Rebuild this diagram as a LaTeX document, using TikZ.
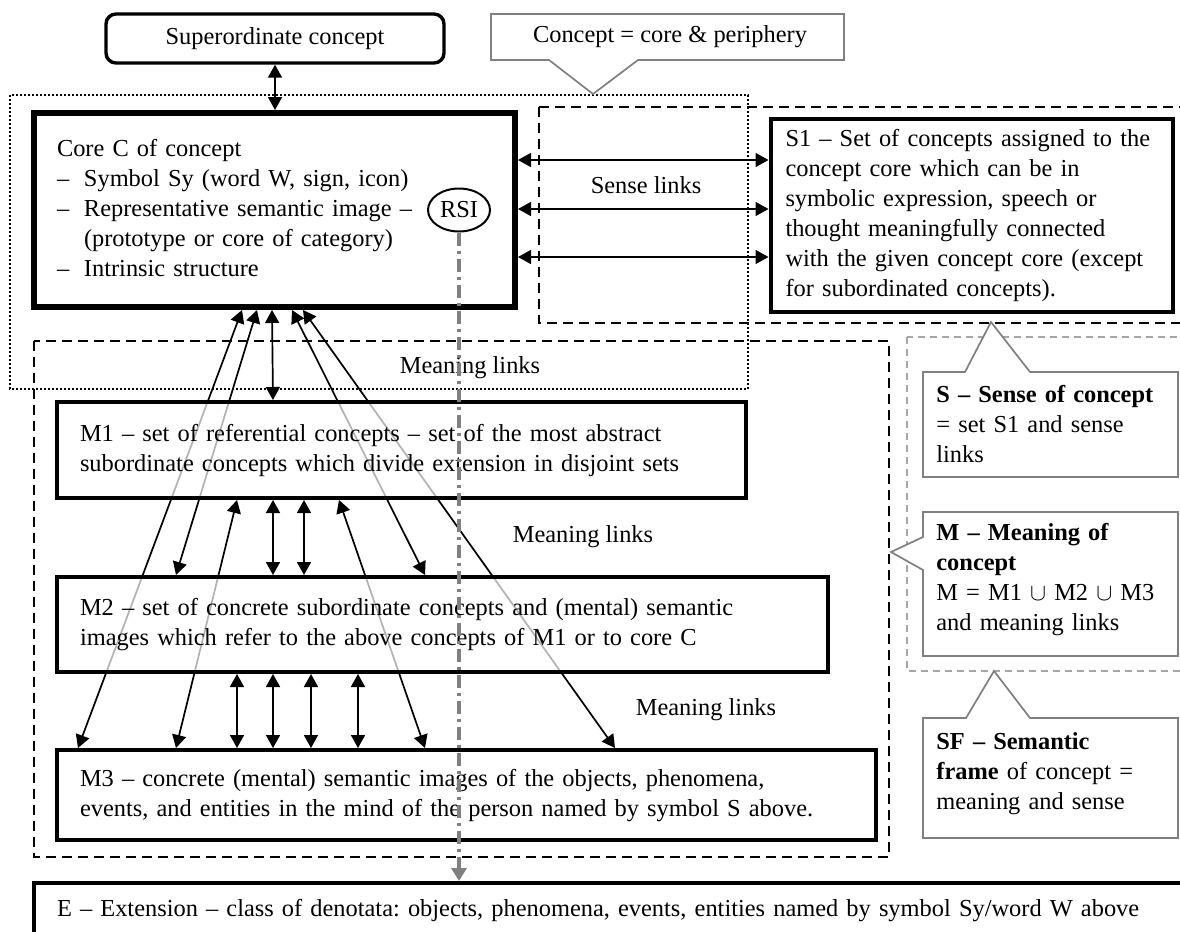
\documentclass[tikz,border=0pt]{standalone}
\usepackage{fontspec}
\setmainfont{Liberation Serif}
\usetikzlibrary{positioning,calc,shapes.geometric,arrows.meta,backgrounds}

\newcommand\bodyfont{\fontsize{12.2}{15}\selectfont}
\newcommand\itemdash{\makebox[13.5pt][l]{–}}
\frenchspacing
\hyphenpenalty=10000

\begin{document}
\begin{tikzpicture}[
    x=0.5pt, y=-0.5pt, font=\bodyfont,
    box/.style={draw, line width=2pt, fill=white, fill opacity=0.7, text opacity=1,
        align=left, inner xsep=11.5pt, inner ysep=0pt,
        execute at begin node=\strut, execute at end node=\strut},
    topbox/.style={draw, line width=1.7pt, rounded corners=5pt, minimum width=169pt, minimum height=24.5pt},
    rsi/.style={ellipse, draw, line width=1pt, fill=white, minimum width=31pt, minimum height=21.5pt, inner sep=0pt},
    lbl/.style={inner sep=1pt},
    notetext/.style={anchor=west, inner sep=0pt, text width=118pt, align=left,
        execute at begin node=\strut, execute at end node=\strut},
    callout/.style={draw=gray, fill=white, line width=0.85pt},
    region/.style={draw, line width=0.85pt, dash pattern=on 5pt off 3pt},
    link/.style={line width=0.85pt, {Triangle[length=6.5pt,width=7pt]}-{Triangle[length=6.5pt,width=7pt]}},
    rsiline/.style={draw=gray, line width=1.75pt, dash pattern=on 6.5pt off 2.5pt on 1.5pt off 2.5pt,
        -{Triangle[length=6.5pt,width=7.5pt]}}
]
\useasboundingbox (0,0) rectangle (1180,932);

% callout outlines
\draw[callout] (491,60) -- (549,60) -- (593,94) -- (638,60) -- (844,60) -- (844,14) -- (491,14) -- cycle;
\draw[callout] (923,372) -- (965,372) -- (991,322) -- (1030,372) -- (1178,372) -- (1178,477) -- (923,477) -- cycle;
\draw[callout] (923,512) -- (1178,512) -- (1178,656) -- (923,656) -- (923,570) -- (891,552) -- (923,537) -- cycle;
\draw[callout] (923,718) -- (966,718) -- (994,671) -- (1030,718) -- (1178,718) -- (1178,838) -- (923,838) -- cycle;

% boxes
\node[topbox] (sup) at (275,38.5) {Superordinate concept};
\node[box, line width=3pt, text width=217.5pt, minimum height=97pt] (core) at (274.5,210)
    {Core C of concept\\ \itemdash Symbol Sy (word W, sign, icon)\\ \itemdash Representative semantic image –\\
     \hspace*{13.5pt}(prototype or core of category)\\ \itemdash Intrinsic structure};
\node[rsi] (rsi) at (459,210) {RSI};
\node[box, text width=186pt, inner xsep=7.5pt, minimum height=96.5pt] (s1) at (971.5,215.5)
    {S1 – Set of concepts assigned to the\\ concept core which can be in\\ symbolic expression, speech or\\
     thought meaningfully connected\\ with the given concept core (except\\ for subordinated concepts).};
\node[box, text width=321.5pt, minimum height=48pt] (m1) at (401.5,450)
    {M1 – set of referential concepts – set of the most abstract\\ subordinate concepts which divide extension in disjoint sets};
\node[box, text width=362.5pt, minimum height=47.5pt] (m2) at (442.5,624.5)
    {M2 – set of concrete subordinate concepts and (mental) semantic\\ images which refer to the above concepts of M1 or to core C};
\node[box, text width=386.5pt, minimum height=45pt] (m3) at (466.5,795)
    {M3 – concrete (mental) semantic images of the objects, phenomena,\\ events, and entities in the mind of the person named by symbol S above.};
\node[box, text width=580pt, minimum height=27pt] (e) at (637,910)
    {E – Extension – class of denotata: objects, phenomena, events, entities named by symbol Sy/word W above};

% labels
\node[lbl] (senselbl) at (646,185) {Sense links};
\node[lbl] (meanlbl1) at (470,368) {Meaning links};
\node[lbl] (meanlbl2) at (583,537) {Meaning links};
\node[lbl] (meanlbl3) at (706,710) {Meaning links};

% callout texts
\node[inner sep=0pt] (concept) at (670,37) {Concept = core \& periphery};
\node[notetext] (sense) at (936,426) {\textbf{S – Sense of concept}\\= set S1 and sense\\links};
\node[notetext] (meaning) at (936,579.5) {\textbf{M – Meaning of}\\\textbf{concept}\\M = M1 $\cup$ M2 $\cup$ M3\\and meaning links};
\node[notetext] (frame) at (936,773) {\textbf{SF – Semantic}\\\textbf{frame} of concept =\\meaning and sense};

% regions and links behind the boxes
\begin{scope}[on background layer]
\draw[line width=1pt, dash pattern=on 1pt off 1pt] (10,95) rectangle (748,389);
\draw[region] (539,107) rectangle (1200,323);
\draw[region] (34,341) rectangle (889,857);
\draw[region, draw=gray!70, dash pattern=on 3.5pt off 2.5pt] (907,337) rectangle (1200,671);

\draw[link] (sup.south) -- (sup.south |- core.north);
\foreach \dy in {50,99,147} {
    \coordinate (sl) at ($(core.north east)+(0,\dy)$);
    \draw[link] (sl) -- (sl -| s1.west);
}
\foreach \a/\b/\t in {211/23/m3, 226/121/m2, 241/218/m1, 261/370/m2, 272/560/m3}
    \draw[link] ($(core.south west)+(\a,0)$) -- ($(\t.north west)+(\b,0)$);
\foreach \a/\b/\t in {182/121/m3, 218/218/m2, 249/249/m2, 284/370/m3}
    \draw[link] ($(m1.south west)+(\a,0)$) -- ($(\t.north west)+(\b,0)$);
\foreach \a in {182,218,256,303}
    \draw[link] ($(m2.south west)+(\a,0)$) -- ($(m3.north west)+(\a,0)$);
\end{scope}

\draw[rsiline] (rsi.south) -- (rsi.south |- e.north);
\end{tikzpicture}
\end{document}
